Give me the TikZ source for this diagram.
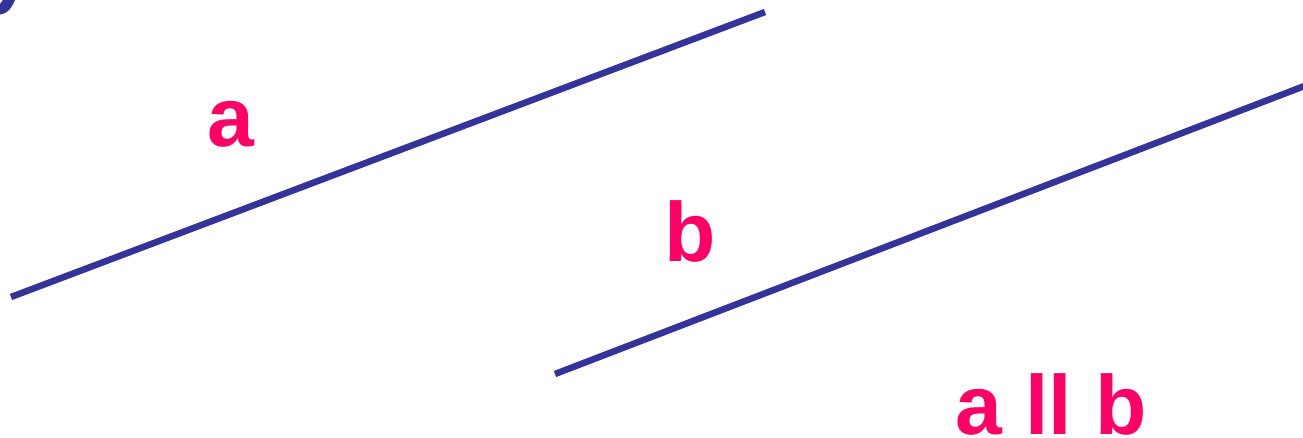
\documentclass[tikz,border=0pt]{standalone}
\usepackage{fontspec}
\setmainfont{Liberation Sans}
\definecolor{lineblue}{HTML}{333399}
\definecolor{labelpink}{HTML}{FF0066}
\tikzset{
  parline/.style={draw=lineblue, line width=6.5pt},
  biglabel/.style={text=labelpink, font=\fontsize{84}{84}\selectfont\bfseries, inner sep=0pt, anchor=base},
  titlefrag/.style={text=lineblue, font=\fontsize{90}{90}\selectfont\bfseries, inner sep=0pt, anchor=base west}
}
\begin{document}
\begin{tikzpicture}[x=1pt,y=-1pt]
\useasboundingbox (0,0) rectangle (1303,437);
\clip (0,0) rectangle (1303,437);
\coordinate (a1) at (11,297);
\coordinate (a2) at (765,12);
\coordinate (b1) at (555,374);
\coordinate (b2) at (1320,80);
\draw[parline] (a1) -- (a2);
\draw[parline] (b1) -- (b2);
\node[biglabel] (la) at (231,146) {a};
\node[biglabel] (lb) at (690,261) {b};
\node[biglabel, anchor=base west] (lab) at (955,434) {a ll b};
\node[titlefrag] (tf) at (-15,-4) {y};
\end{tikzpicture}
\end{document}
